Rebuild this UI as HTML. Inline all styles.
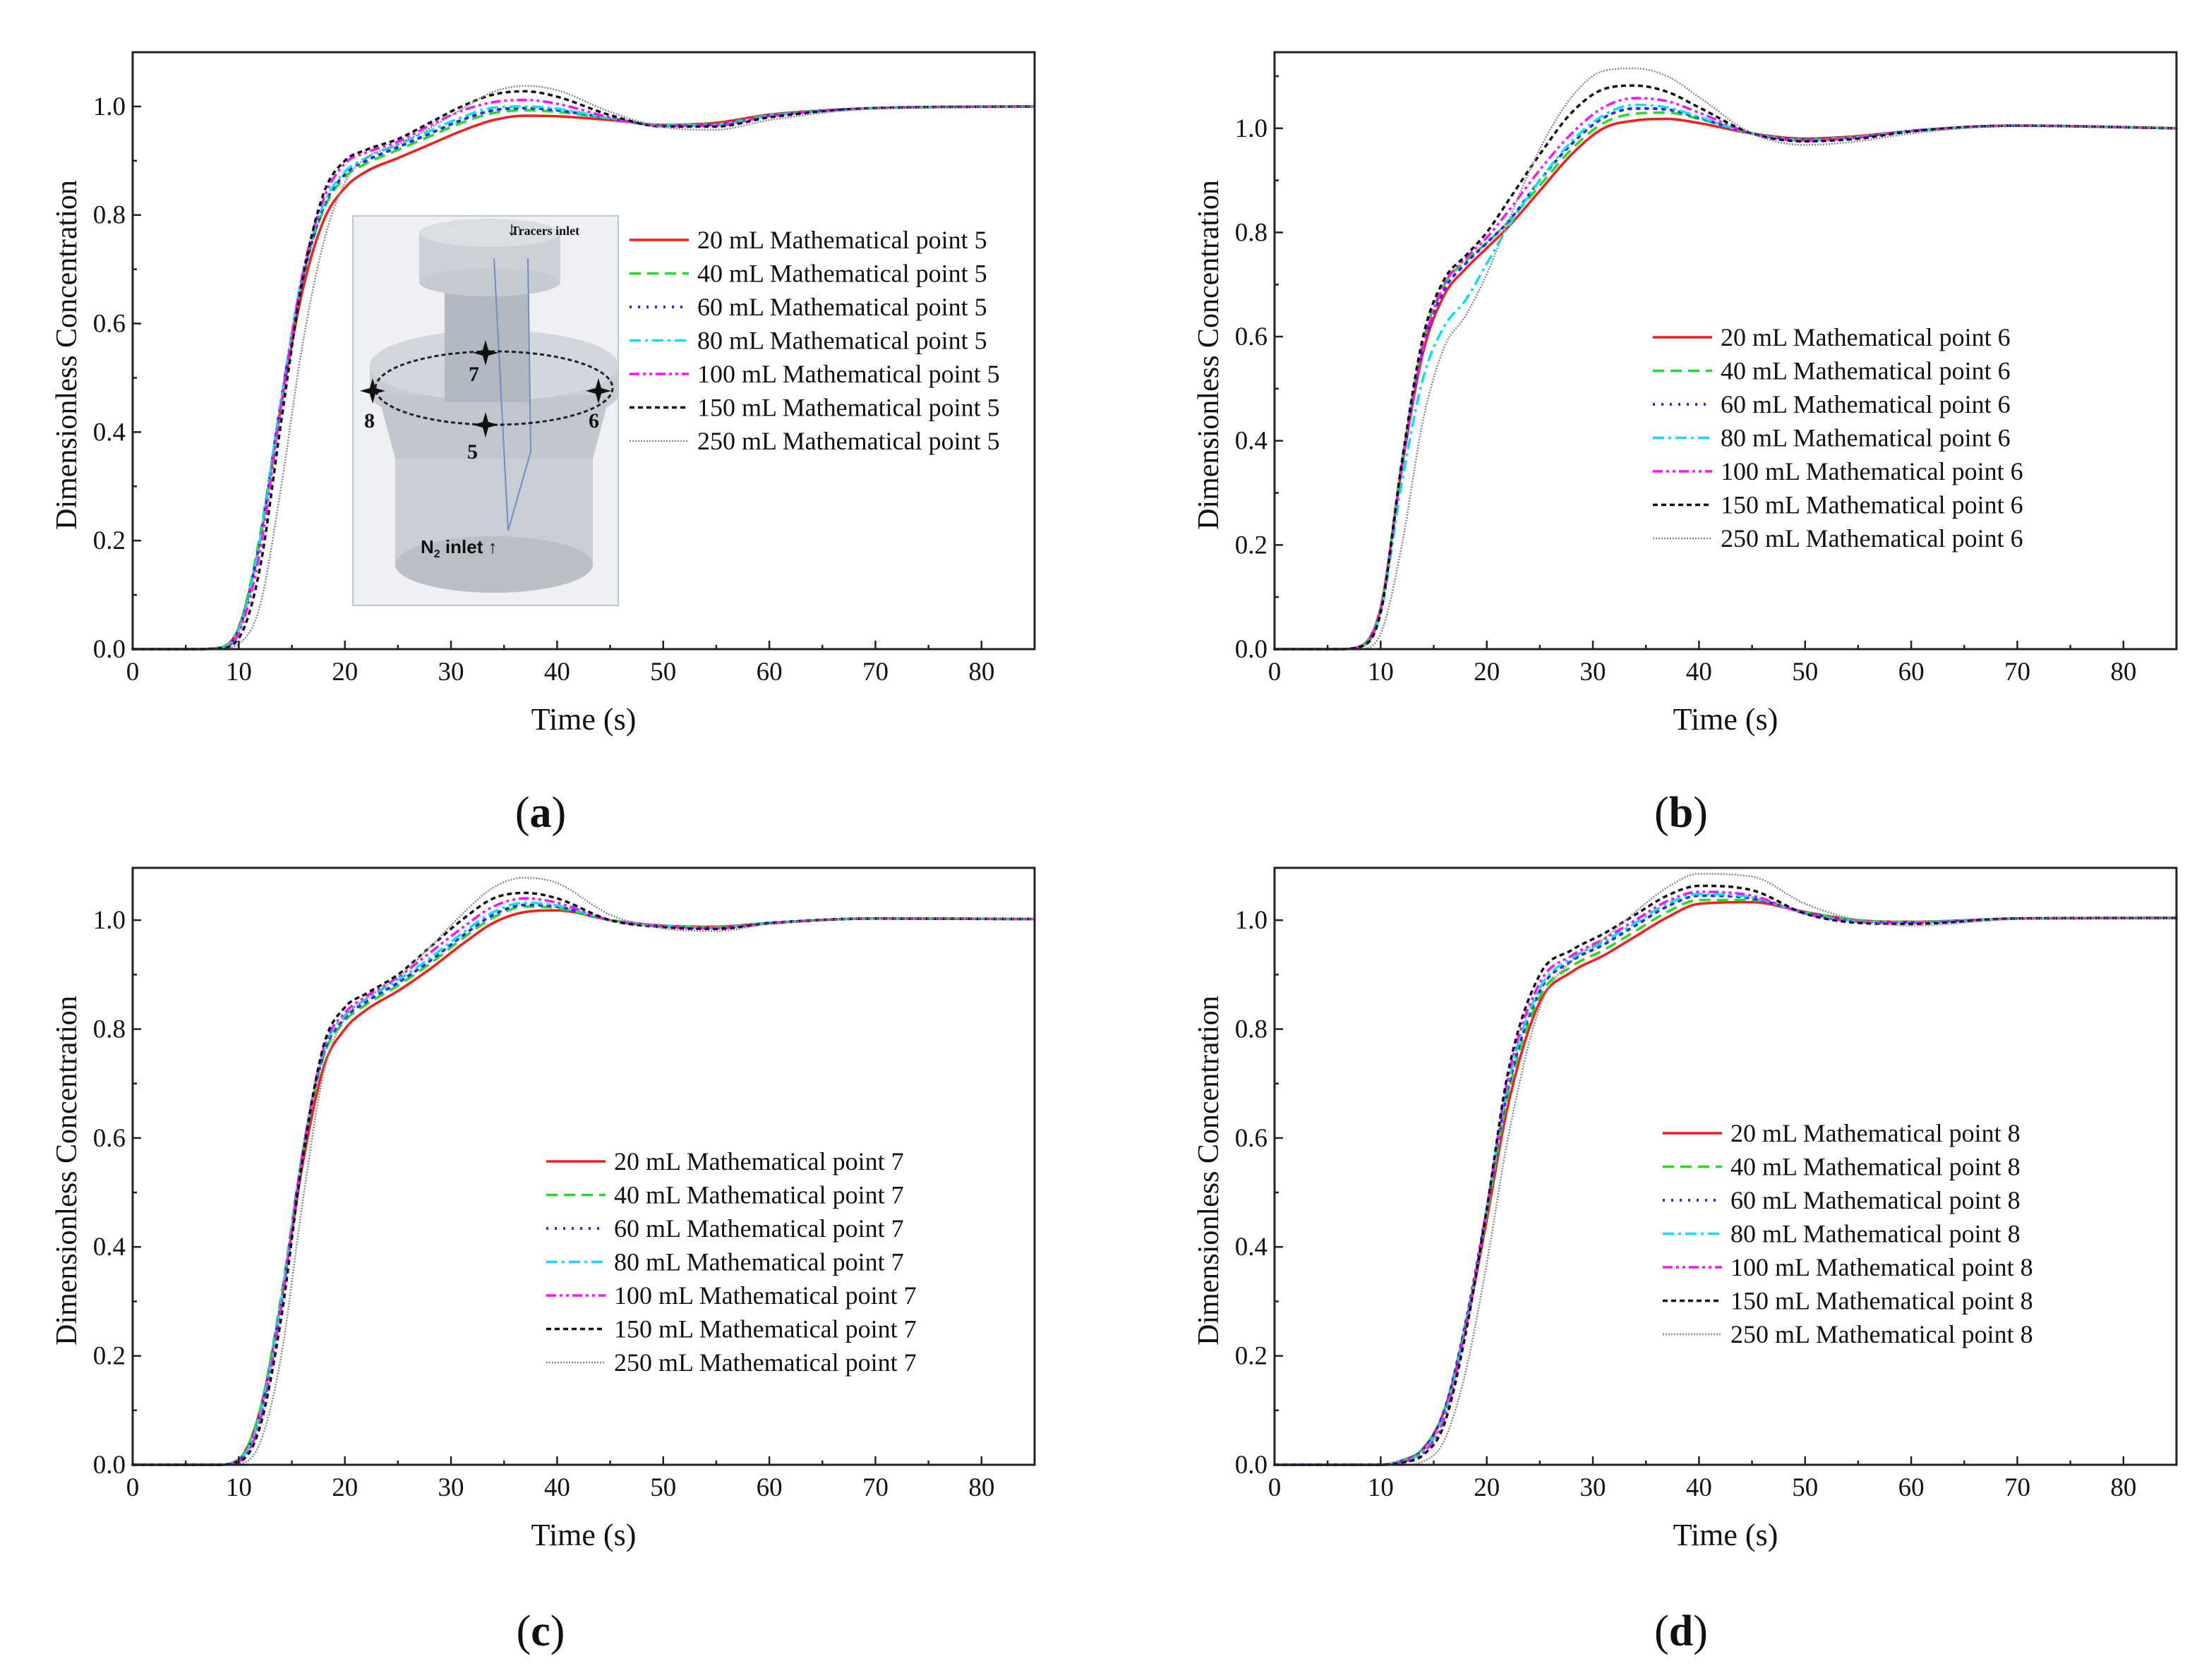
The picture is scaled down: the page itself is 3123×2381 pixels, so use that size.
<!DOCTYPE html>
<html><head><meta charset="utf-8"><style>
html,body{margin:0;padding:0;background:#fff}
svg text{font-family:"Liberation Serif",serif;fill:#111}
</style></head><body>
<svg id="fig" xmlns="http://www.w3.org/2000/svg" width="3123" height="2376" viewBox="0 0 3123 2376">
<g id="inset">
 <rect x="500" y="306" width="376" height="552" fill="#eef0f3" stroke="#b8c8dc" stroke-width="2"/>
 <path d="M560 640 L560 800 A140 40 0 0 0 840 800 L840 640 Z" fill="#c4c9d1" opacity="0.9"/>
 <ellipse cx="700" cy="800" rx="140" ry="40" fill="#b9bec7"/>
 <path d="M524 520 L524 560 A176 40 0 0 0 876 560 L876 520 A176 50 0 0 0 524 520 Z" fill="#c8ccd3"/>
 <path d="M536 560 L560 650 L840 650 L864 560 Z" fill="#c2c7cf"/>
 <ellipse cx="700" cy="518" rx="176" ry="50" fill="#d3d7dd"/>
 <rect x="630" y="400" width="120" height="170" fill="#b3b9c2"/>
 <ellipse cx="690" cy="400" rx="62" ry="16" fill="#c9cdd4"/>
 <rect x="594" y="330" width="200" height="70" fill="#cdd1d7"/>
 <ellipse cx="694" cy="330" rx="100" ry="20" fill="#dadde2"/>
 <ellipse cx="694" cy="400" rx="100" ry="20" fill="#c6cad1"/>
 <path d="M700 366 L720 752 M748 366 L752 640 L720 752" stroke="#6c90c8" stroke-width="2" fill="none"/>
 <ellipse cx="700" cy="550" rx="168" ry="52" fill="none" stroke="#222" stroke-width="3" stroke-dasharray="6,4"/>
 <text x="724" y="333" font-family="Liberation Sans" font-size="18" font-weight="bold">Tracers inlet</text>
 <text x="718" y="333" font-size="28" font-weight="bold">↓</text>
 <text x="596" y="784" style="font-family:'Liberation Sans',sans-serif" font-size="26" font-weight="bold">N<tspan font-size="16" dy="6">2</tspan><tspan dy="-6"> inlet ↑</tspan></text>
 <g style="font-family:'Liberation Sans',sans-serif" font-size="30" font-weight="bold">
  <text x="664" y="540">7</text><text x="516" y="606">8</text><text x="834" y="606">6</text><text x="662" y="650">5</text>
 </g>
 <g fill="#111"><path d="M688 482 l4 14 l14 4 l-14 4 l-4 14 l-4 -14 l-14 -4 l14 -4z"/><path d="M528 536 l4 14 l14 4 l-14 4 l-4 14 l-4 -14 l-14 -4 l14 -4z"/><path d="M848 536 l4 14 l14 4 l-14 4 l-4 14 l-4 -14 l-14 -4 l14 -4z"/><path d="M688 584 l4 14 l14 4 l-14 4 l-4 14 l-4 -14 l-14 -4 l14 -4z"/></g>
</g>
</svg>
<script>
const times=[0,6,8,10,12,14,16,18,20,22,25,28,31,34,37,40,45,50,55,60,70,85];
const volumes=["20","40","60","80","100","150","250"];
const xTicks=[0,10,20,30,40,50,60,70,80];
const yTicks=[0,0.2,0.4,0.6,0.8,1.0];
const pointsLabel=["5","6","7","8"];
const panelLetters=["a","b","c","d"];
const seriesA=[
[0,0,0.002,0.04,0.2,0.45,0.66,0.79,0.85,0.88,0.905,0.93,0.955,0.975,0.983,0.982,0.975,0.966,0.97,0.985,0.997,1.0],
[0,0,0.002,0.04,0.21,0.46,0.68,0.81,0.87,0.895,0.92,0.945,0.97,0.988,0.993,0.99,0.978,0.966,0.968,0.984,0.997,1.0],
[0,0,0.002,0.035,0.2,0.46,0.68,0.815,0.875,0.9,0.925,0.95,0.975,0.993,0.997,0.993,0.978,0.965,0.967,0.983,0.997,1.0],
[0,0,0.002,0.035,0.2,0.46,0.69,0.82,0.88,0.905,0.93,0.955,0.98,0.998,1.0,0.996,0.978,0.965,0.966,0.983,0.997,1.0],
[0,0,0.001,0.03,0.18,0.45,0.69,0.83,0.895,0.915,0.935,0.965,0.992,1.008,1.012,1.005,0.98,0.964,0.965,0.982,0.997,1.0],
[0,0,0.001,0.02,0.15,0.42,0.68,0.84,0.9,0.92,0.94,0.97,1.0,1.022,1.028,1.018,0.984,0.963,0.963,0.98,0.997,1.0],
[0,0,0,0.01,0.08,0.3,0.56,0.75,0.86,0.905,0.93,0.96,0.995,1.027,1.038,1.03,0.99,0.962,0.957,0.975,0.996,1.0]];
const seriesB=[
[0,0,0.005,0.08,0.35,0.57,0.68,0.73,0.77,0.81,0.88,0.95,1.0,1.015,1.018,1.01,0.99,0.98,0.985,0.995,1.005,1.0],
[0,0,0.005,0.08,0.36,0.59,0.7,0.745,0.78,0.82,0.89,0.96,1.01,1.028,1.03,1.018,0.99,0.978,0.984,0.995,1.005,1.0],
[0,0,0.004,0.075,0.35,0.58,0.69,0.74,0.78,0.82,0.9,0.97,1.02,1.038,1.036,1.02,0.99,0.978,0.983,0.995,1.005,1.0],
[0,0,0.003,0.07,0.32,0.52,0.62,0.67,0.74,0.81,0.9,0.975,1.025,1.045,1.04,1.022,0.99,0.977,0.983,0.995,1.005,1.0],
[0,0,0.004,0.075,0.35,0.58,0.7,0.75,0.79,0.84,0.92,0.99,1.04,1.058,1.052,1.03,0.99,0.976,0.982,0.995,1.005,1.0],
[0,0,0.004,0.07,0.36,0.6,0.71,0.755,0.8,0.86,0.95,1.03,1.075,1.082,1.07,1.04,0.99,0.975,0.98,0.994,1.005,1.0],
[0,0,0,0.03,0.2,0.44,0.58,0.64,0.72,0.82,0.96,1.06,1.11,1.115,1.1,1.06,0.99,0.968,0.975,0.99,1.005,1.0]];
const seriesC=[
[0,0,0,0.01,0.1,0.3,0.55,0.73,0.8,0.835,0.87,0.91,0.955,0.995,1.015,1.018,1.0,0.99,0.988,0.995,1.003,1.002],
[0,0,0,0.01,0.1,0.31,0.57,0.75,0.815,0.845,0.88,0.92,0.965,1.005,1.025,1.022,1.0,0.99,0.987,0.995,1.003,1.002],
[0,0,0,0.008,0.09,0.3,0.57,0.755,0.82,0.85,0.885,0.925,0.97,1.01,1.028,1.025,1.0,0.989,0.986,0.995,1.003,1.002],
[0,0,0,0.008,0.09,0.3,0.57,0.76,0.825,0.855,0.89,0.93,0.975,1.015,1.032,1.027,1.0,0.989,0.986,0.995,1.003,1.002],
[0,0,0,0.006,0.08,0.29,0.57,0.765,0.83,0.86,0.895,0.94,0.985,1.025,1.04,1.032,1.0,0.988,0.985,0.994,1.003,1.002],
[0,0,0,0.005,0.07,0.27,0.56,0.77,0.84,0.865,0.9,0.95,1.0,1.04,1.05,1.04,1.0,0.987,0.984,0.994,1.003,1.002],
[0,0,0,0.002,0.04,0.2,0.48,0.72,0.82,0.855,0.895,0.95,1.01,1.06,1.078,1.068,1.01,0.985,0.98,0.993,1.003,1.002]];
const seriesD=[
[0,0,0,0,0.008,0.03,0.1,0.25,0.45,0.66,0.85,0.905,0.935,0.97,1.005,1.03,1.033,1.015,1.0,0.997,1.003,1.004],
[0,0,0,0,0.008,0.03,0.1,0.26,0.46,0.68,0.86,0.915,0.945,0.98,1.015,1.037,1.037,1.015,1.0,0.997,1.003,1.004],
[0,0,0,0,0.007,0.028,0.1,0.26,0.47,0.69,0.87,0.925,0.955,0.99,1.025,1.045,1.04,1.014,0.998,0.996,1.003,1.004],
[0,0,0,0,0.006,0.025,0.09,0.25,0.47,0.7,0.875,0.93,0.96,0.995,1.03,1.048,1.042,1.013,0.998,0.996,1.003,1.004],
[0,0,0,0,0.005,0.022,0.085,0.25,0.47,0.71,0.885,0.935,0.965,1.0,1.035,1.052,1.045,1.012,0.997,0.995,1.003,1.004],
[0,0,0,0,0.004,0.018,0.075,0.24,0.47,0.72,0.9,0.945,0.975,1.01,1.045,1.063,1.055,1.012,0.995,0.993,1.003,1.004],
[0,0,0,0,0,0.006,0.045,0.17,0.37,0.6,0.84,0.925,0.965,1.015,1.06,1.085,1.08,1.03,1.0,0.99,1.002,1.004]];
const allSeries=[seriesA,seriesB,seriesC,seriesD];

const styles=[
 {c:"#ff1a1a",d:"",w:3.5},{c:"#22dd22",d:"16,9",w:3.5},{c:"#2a2aff",d:"3,9",w:4},
 {c:"#00e5ee",d:"16,6,4,6",w:3.5},{c:"#ff10ff",d:"14,5,4,5,4,5",w:3.5},{c:"#111",d:"7,5",w:3.5},{c:"#888",d:"2,2",w:2.5}];
const panels=[
 {L:188,R:1466,T:74,B:920,ymax:1.1,leg:[892,340],lab:[766,1150]},
 {L:1806,R:3084,T:74,B:920,ymax:1.146,leg:[2342,478],lab:[2382,1150]},
 {L:188,R:1466,T:1230,B:2076,ymax:1.096,leg:[774,1646],lab:[766,2310]},
 {L:1806,R:3084,T:1230,B:2076,ymax:1.096,leg:[2356,1606],lab:[2382,2310]}];
const NS="http://www.w3.org/2000/svg";
const svg=document.getElementById('fig');
function mk(tag,attrs,parent){const e=document.createElementNS(NS,tag);for(const k in attrs)e.setAttribute(k,attrs[k]);(parent||svg).appendChild(e);return e;}
function pathFor(xs,ys){
 const n=xs.length,m=[],del=[];
 for(let i=0;i<n-1;i++)del.push((ys[i+1]-ys[i])/(xs[i+1]-xs[i]));
 for(let i=0;i<n;i++){
  if(i===0)m.push(del[0]);else if(i===n-1)m.push(del[n-2]);
  else if(del[i-1]*del[i]<=0)m.push(0);else m.push((del[i-1]+del[i])/2);
 }
 for(let i=0;i<n-1;i++){if(del[i]===0){m[i]=0;m[i+1]=0;}else{const a=m[i]/del[i],b=m[i+1]/del[i],s=a*a+b*b;if(s>9){const t=3/Math.sqrt(s);m[i]=t*a*del[i];m[i+1]=t*b*del[i];}}}
 let d=`M${xs[0]},${ys[0]}`;
 for(let i=0;i<n-1;i++){const h=(xs[i+1]-xs[i])/3;d+=` C${xs[i]+h},${ys[i]+m[i]*h} ${xs[i+1]-h},${ys[i+1]-m[i+1]*h} ${xs[i+1]},${ys[i+1]}`;}
 return d;}
const inset=document.getElementById('inset');
panels.forEach((p,pi)=>{
 const g=mk('g',{});
 
 
 const sx=v=>p.L+(p.R-p.L)*v/85, sy=v=>p.B-(p.B-p.T)*v/p.ymax;
 const lines=mk('g',{},g);
 
 
 allSeries[pi].forEach((s,si)=>{
  const st=styles[si];
  const pa=mk('path',{d:pathFor(times.map(sx),s.map(sy)),fill:'none',stroke:st.c,'stroke-width':st.w,'stroke-dasharray':st.d,'stroke-linecap':si==2?'round':'butt'},lines);
  
  
 });
 const fr=mk('rect',{x:p.L,y:p.T,width:p.R-p.L,height:p.B-p.T,fill:'none',stroke:'#222','stroke-width':3},g);
 
 
 for(let v=0;v<=85;v+=5){const x=sx(v);mk('line',{x1:x,x2:x,y1:p.B,y2:p.B-(v%10?6:12),stroke:'#222','stroke-width':2.5},g);}
 xTicks.forEach(v=>{const t=mk('text',{x:sx(v),y:p.B+44,'font-size':37,'text-anchor':'middle'},g);t.textContent=v;
  
  });
 for(let k=0;k<=Math.floor(p.ymax*10+1e-6);k++){const y=sy(k/10);mk('line',{x1:p.L,x2:p.L+(k%2?6:12),y1:y,y2:y,stroke:'#222','stroke-width':2.5},g);}
 yTicks.forEach(v=>{const t=mk('text',{x:p.L-10,y:sy(v)+12,'font-size':37,'text-anchor':'end'},g);t.textContent=v.toFixed(1);
  
  });
 const xt=mk('text',{x:(p.L+p.R)/2,y:p.B+114,'font-size':44,'text-anchor':'middle'},g);xt.textContent='Time (s)';
 
 
 const cy=(p.T+p.B)/2+6, cx=p.L-80;
 const yt=mk('text',{x:cx,y:cy,'font-size':42,'text-anchor':'middle',transform:`rotate(-90 ${cx} ${cy})`},g);yt.textContent='Dimensionless Concentration';
 
 
 const lg=mk('g',{},g);
 
 
 volumes.forEach((vol,si)=>{const st=styles[si];const y=p.leg[1]+si*47.5;
  mk('line',{x1:p.leg[0],x2:p.leg[0]+84,y1:y,y2:y,stroke:st.c,'stroke-width':st.w,'stroke-dasharray':st.d},lg);
  const t=mk('text',{x:p.leg[0]+96,y:y+12,'font-size':36},lg);t.textContent=vol+' mL Mathematical point '+pointsLabel[pi];
  
  });
 const pl=mk('text',{x:p.lab[0],y:p.lab[1]+22,'font-size':62,'text-anchor':'middle'},g);
 pl.innerHTML='(<tspan font-weight="bold">'+panelLetters[pi]+'</tspan>)';
 
 
});
svg.insertBefore(inset, svg.children[1]);
</script>
</body></html>
